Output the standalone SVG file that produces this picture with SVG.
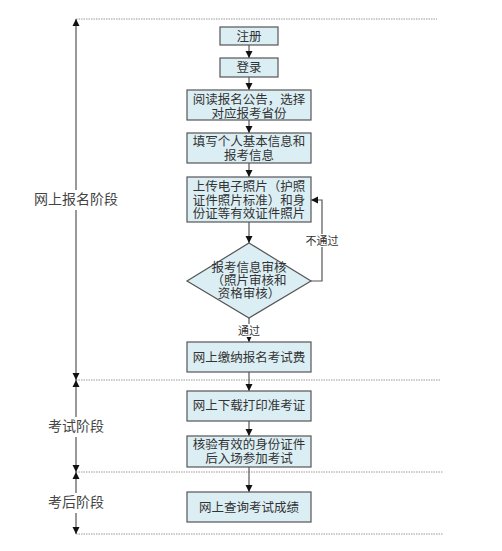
<svg xmlns="http://www.w3.org/2000/svg" width="502" height="551" viewBox="0 0 502 551">
<defs>
<style>
.box{fill:#dbeef4;stroke:#555;stroke-width:1.2}
.t{font-family:"Liberation Sans","Noto Sans CJK SC",sans-serif;font-size:12.5px;fill:#333;text-anchor:middle}
.st{font-family:"Liberation Sans","Noto Sans CJK SC",sans-serif;font-size:14px;fill:#444;text-anchor:middle}
.lbl{font-family:"Liberation Sans","Noto Sans CJK SC",sans-serif;font-size:11px;fill:#333;text-anchor:middle}
.c{fill:none;stroke:#555;stroke-width:1.2}
.ax{fill:none;stroke:#777;stroke-width:1.5}
.dot{fill:none;stroke:#999;stroke-width:1;stroke-dasharray:1.5,1}
</style>
<marker id="ah" markerWidth="8" markerHeight="8" refX="7" refY="4" orient="auto" markerUnits="userSpaceOnUse">
<path d="M0,0.5 L7,4 L0,7.5 Z" fill="#111"/>
</marker>
<marker id="axh" markerWidth="8" markerHeight="8" refX="7" refY="4" orient="auto-start-reverse" markerUnits="userSpaceOnUse">
<path d="M0,0.5 L7,4 L0,7.5 Z" fill="#111"/>
</marker>
</defs>
<rect width="502" height="551" fill="#fff"/>
<g id="guides">
<line class="dot" x1="76" y1="19" x2="437" y2="19"/>
<line class="dot" x1="76" y1="380" x2="440" y2="380"/>
<line class="dot" x1="76" y1="472" x2="443" y2="472"/>
<line class="dot" x1="76" y1="534" x2="443" y2="534"/>
</g>
<g id="axis">
<line class="ax" x1="76" y1="19" x2="76" y2="380" marker-start="url(#axh)" marker-end="url(#axh)"/>
<line class="ax" x1="76" y1="380" x2="76" y2="472" marker-start="url(#axh)" marker-end="url(#axh)"/>
<line class="ax" x1="76" y1="472" x2="76" y2="534" marker-start="url(#axh)" marker-end="url(#axh)"/>
</g>
<g id="stage1"><rect x="34" y="190" width="86" height="20" fill="#fff"/><text class="st" x="76" y="204">网上报名阶段</text></g>
<g id="stage2"><rect x="46" y="417" width="60" height="20" fill="#fff"/><text class="st" x="76" y="431">考试阶段</text></g>
<g id="stage3"><rect x="46" y="493" width="60" height="20" fill="#fff"/><text class="st" x="76" y="507">考后阶段</text></g>
<g id="connectors">
<line class="c" x1="249" y1="45" x2="249" y2="58" marker-end="url(#ah)"/>
<line class="c" x1="249" y1="77" x2="249" y2="90" marker-end="url(#ah)"/>
<line class="c" x1="249" y1="120" x2="249" y2="133" marker-end="url(#ah)"/>
<line class="c" x1="249" y1="163" x2="249" y2="177" marker-end="url(#ah)"/>
<line class="c" x1="249" y1="222" x2="249" y2="243" marker-end="url(#ah)"/>
<line class="c" x1="249" y1="318" x2="249" y2="342" marker-end="url(#ah)"/>
<polyline class="c" points="311,281 322,281 322,200 311,200" marker-end="url(#ah)"/>
<line class="c" x1="249" y1="372" x2="249" y2="391" marker-end="url(#ah)"/>
<line class="c" x1="249" y1="421" x2="249" y2="436" marker-end="url(#ah)"/>
<line class="c" x1="249" y1="467" x2="249" y2="492" marker-end="url(#ah)"/>
<rect x="236" y="324" width="26" height="13" fill="#fff"/>
<text class="lbl" x="249" y="334.5">通过</text>
<rect x="305" y="234" width="34" height="13" fill="#fff"/>
<text class="lbl" x="322" y="244.5">不通过</text>
</g>
<g id="n1"><rect class="box" x="220" y="27" width="58" height="18"/><text class="t" x="249" y="40.5">注册</text></g>
<g id="n2"><rect class="box" x="220" y="58" width="58" height="19"/><text class="t" x="249" y="72">登录</text></g>
<g id="n3"><rect class="box" x="187" y="90" width="124" height="30"/><text class="t" x="249" y="103.5">阅读报名公告，选择</text><text class="t" x="249" y="118">对应报考省份</text></g>
<g id="n4"><rect class="box" x="187" y="133" width="124" height="30"/><text class="t" x="249" y="145.5">填写个人基本信息和</text><text class="t" x="249" y="160">报考信息</text></g>
<g id="n5"><rect class="box" x="187" y="177" width="124" height="45"/><text class="t" x="249" y="191">上传电子照片（护照</text><text class="t" x="249" y="204.5">证件照片标准）和身</text><text class="t" x="249" y="218">份证等有效证件照片</text></g>
<g id="n6"><polygon class="box" points="249,243 311,281 249,318 187,281"/><text class="t" x="249" y="272">报考信息审核</text><text class="t" x="249" y="285">（照片审核和</text><text class="t" x="249" y="298">资格审核）</text></g>
<g id="n7"><rect class="box" x="187" y="342" width="124" height="30"/><text class="t" x="249" y="361.5">网上缴纳报名考试费</text></g>
<g id="n8"><rect class="box" x="187" y="391" width="124" height="30"/><text class="t" x="249" y="410">网上下载打印准考证</text></g>
<g id="n9"><rect class="box" x="187" y="436" width="124" height="31"/><text class="t" x="249" y="448.5">核验有效的身份证件</text><text class="t" x="249" y="462.5">后入场参加考试</text></g>
<g id="n10"><rect class="box" x="187" y="492" width="124" height="30"/><text class="t" x="249" y="511.5">网上查询考试成绩</text></g>
</svg>
